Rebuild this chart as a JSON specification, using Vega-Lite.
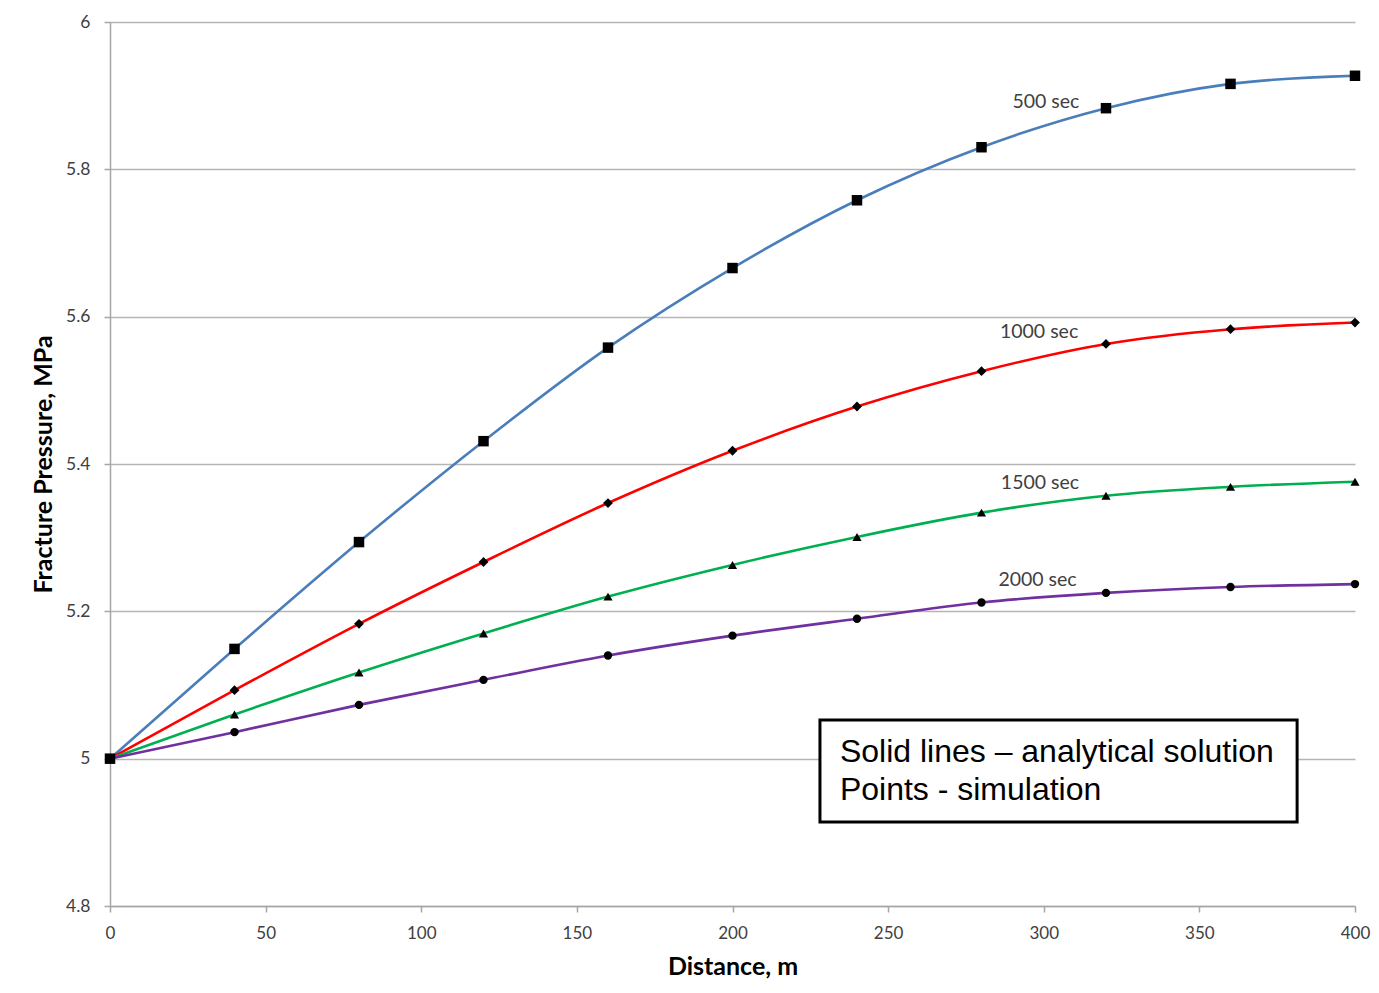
{
  "$schema": "https://vega.github.io/schema/vega-lite/v6.json",
  "width": 1245,
  "height": 884,
  "autosize": {"type": "none"},
  "padding": {"left": 110, "top": 22, "right": 24, "bottom": 87},
  "background": "white",
  "config": {
    "view": {"stroke": null},
    "font": "Lato"
  },
  "datasets": {
    "pts": [
      {"series": "500 sec", "x": 0, "y": 5.0},
      {"series": "500 sec", "x": 40, "y": 5.149},
      {"series": "500 sec", "x": 80, "y": 5.294},
      {"series": "500 sec", "x": 120, "y": 5.431},
      {"series": "500 sec", "x": 160, "y": 5.558},
      {"series": "500 sec", "x": 200, "y": 5.666},
      {"series": "500 sec", "x": 240, "y": 5.758},
      {"series": "500 sec", "x": 280, "y": 5.830},
      {"series": "500 sec", "x": 320, "y": 5.883},
      {"series": "500 sec", "x": 360, "y": 5.916},
      {"series": "500 sec", "x": 400, "y": 5.927},
      {"series": "1000 sec", "x": 0, "y": 5.0},
      {"series": "1000 sec", "x": 40, "y": 5.093},
      {"series": "1000 sec", "x": 80, "y": 5.183},
      {"series": "1000 sec", "x": 120, "y": 5.267},
      {"series": "1000 sec", "x": 160, "y": 5.347},
      {"series": "1000 sec", "x": 200, "y": 5.418},
      {"series": "1000 sec", "x": 240, "y": 5.478},
      {"series": "1000 sec", "x": 280, "y": 5.526},
      {"series": "1000 sec", "x": 320, "y": 5.563},
      {"series": "1000 sec", "x": 360, "y": 5.583},
      {"series": "1000 sec", "x": 400, "y": 5.592},
      {"series": "1500 sec", "x": 0, "y": 5.0},
      {"series": "1500 sec", "x": 40, "y": 5.060},
      {"series": "1500 sec", "x": 80, "y": 5.117},
      {"series": "1500 sec", "x": 120, "y": 5.170},
      {"series": "1500 sec", "x": 160, "y": 5.220},
      {"series": "1500 sec", "x": 200, "y": 5.263},
      {"series": "1500 sec", "x": 240, "y": 5.301},
      {"series": "1500 sec", "x": 280, "y": 5.334},
      {"series": "1500 sec", "x": 320, "y": 5.357},
      {"series": "1500 sec", "x": 360, "y": 5.369},
      {"series": "1500 sec", "x": 400, "y": 5.376},
      {"series": "2000 sec", "x": 0, "y": 5.0},
      {"series": "2000 sec", "x": 40, "y": 5.036},
      {"series": "2000 sec", "x": 80, "y": 5.073},
      {"series": "2000 sec", "x": 120, "y": 5.107},
      {"series": "2000 sec", "x": 160, "y": 5.140},
      {"series": "2000 sec", "x": 200, "y": 5.167},
      {"series": "2000 sec", "x": 240, "y": 5.190},
      {"series": "2000 sec", "x": 280, "y": 5.212},
      {"series": "2000 sec", "x": 320, "y": 5.225},
      {"series": "2000 sec", "x": 360, "y": 5.233},
      {"series": "2000 sec", "x": 400, "y": 5.237}
    ],
    "labels": [
      {"label": "500 sec", "x": 300.7, "y": 5.891},
      {"label": "1000 sec", "x": 298.5, "y": 5.579},
      {"label": "1500 sec", "x": 298.8, "y": 5.374},
      {"label": "2000 sec", "x": 298, "y": 5.2425}
    ],
    "box": [
      {"x1": 228.1, "x2": 381.4, "y1": 4.914, "y2": 5.0525}
    ],
    "note": [
      {"text": "Solid lines – analytical solution", "x": 234.5, "y": 4.9955},
      {"text": "Points - simulation", "x": 234.5, "y": 4.944}
    ]
  },
  "layer": [
    {
      "data": {"name": "pts"},
      "mark": {"type": "line", "interpolate": "monotone", "strokeWidth": 2.6},
      "encoding": {
        "x": {
          "field": "x", "type": "quantitative",
          "scale": {"domain": [0, 400], "nice": false},
          "axis": {
            "title": "Distance, m",
            "values": [0, 50, 100, 150, 200, 250, 300, 350, 400],
            "grid": false, "labelFlush": false,
            "domainColor": "#a6a6a6", "domainWidth": 1.5,
            "tickColor": "#a6a6a6", "tickSize": 6, "tickWidth": 1.5,
            "labelFontSize": 17, "labelColor": "#404040", "labelPadding": 13,
            "labelFont": "Lato",
            "titleFont": "Lato", "titleFontSize": 25, "titleFontWeight": "bold",
            "titleColor": "#000000", "titlePadding": 13
          }
        },
        "y": {
          "field": "y", "type": "quantitative",
          "scale": {"domain": [4.8, 6], "nice": false, "zero": false},
          "axis": {
            "title": "Fracture Pressure, MPa",
            "values": [4.8, 5, 5.2, 5.4, 5.6, 5.8, 6],
            "format": "~g",
            "grid": true, "gridColor": "#b5b5b5", "gridWidth": 1.5,
            "domainColor": "#a6a6a6", "domainWidth": 1.5,
            "tickColor": "#a6a6a6", "tickSize": 6, "tickWidth": 1.5,
            "labelFontSize": 17.5, "labelColor": "#404040", "labelPadding": 14,
            "labelFont": "Lato",
            "titleFont": "Lato", "titleFontSize": 25, "titleFontWeight": "bold",
            "titleColor": "#000000", "titlePadding": 9
          }
        },
        "color": {
          "field": "series", "type": "nominal",
          "scale": {
            "domain": ["500 sec", "1000 sec", "1500 sec", "2000 sec"],
            "range": ["#4a7ebb", "#ff0000", "#00b050", "#7030a0"]
          },
          "legend": null
        },
        "detail": {"field": "series"}
      }
    },
    {
      "data": {"name": "pts"},
      "mark": {"type": "point", "filled": true, "opacity": 1, "color": "#000000"},
      "encoding": {
        "x": {"field": "x", "type": "quantitative"},
        "y": {"field": "y", "type": "quantitative"},
        "shape": {
          "field": "series", "type": "nominal",
          "scale": {
            "domain": ["500 sec", "1000 sec", "1500 sec", "2000 sec"],
            "range": ["square", "diamond", "triangle-up", "circle"]
          },
          "legend": null
        },
        "size": {
          "field": "series", "type": "nominal",
          "scale": {
            "domain": ["500 sec", "1000 sec", "1500 sec", "2000 sec"],
            "range": [110, 70, 70, 85]
          },
          "legend": null
        }
      }
    },
    {
      "data": {"name": "labels"},
      "mark": {"type": "text", "fontSize": 19.5, "color": "#404040", "font": "Lato", "align": "center", "baseline": "middle"},
      "encoding": {
        "x": {"field": "x", "type": "quantitative"},
        "y": {"field": "y", "type": "quantitative"},
        "text": {"field": "label"}
      }
    },
    {
      "data": {"name": "box"},
      "mark": {"type": "rect", "fill": "white", "stroke": "#000000", "strokeWidth": 3},
      "encoding": {
        "x": {"field": "x1", "type": "quantitative"},
        "x2": {"field": "x2"},
        "y": {"field": "y1", "type": "quantitative"},
        "y2": {"field": "y2"}
      }
    },
    {
      "data": {"name": "note"},
      "mark": {"type": "text", "fontSize": 32, "color": "#000000", "font": "Liberation Sans", "align": "left", "baseline": "alphabetic"},
      "encoding": {
        "x": {"field": "x", "type": "quantitative"},
        "y": {"field": "y", "type": "quantitative"},
        "text": {"field": "text"}
      }
    }
  ]
}
